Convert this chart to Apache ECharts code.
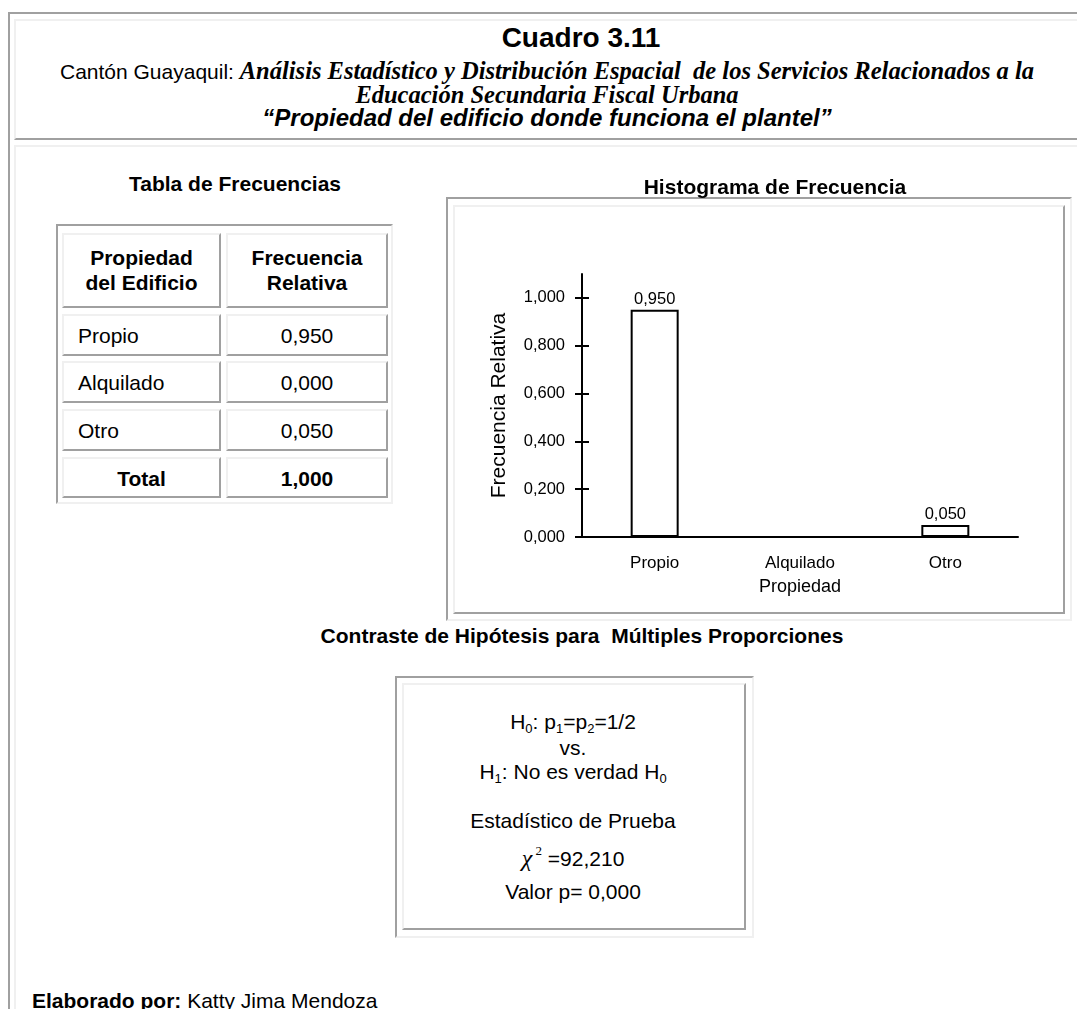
<!DOCTYPE html>
<html>
<head>
<meta charset="utf-8">
<script src="https://cdn.jsdelivr.net/npm/echarts@6/dist/echarts.min.js"></script>
<style>
  html, body { margin:0; padding:0; background:#fff; width:1077px; height:1009px; overflow:hidden; }
  body { position:relative; font-family:"Liberation Sans", Arial, sans-serif; color:#000; }
  .abs { position:absolute; box-sizing:border-box; }
  .t { position:absolute; white-space:nowrap; line-height:1; transform:translate(-50%,-50%); }
  .tl { position:absolute; white-space:nowrap; line-height:1; transform:translate(0,-50%); }
  .serif { font-family:"Liberation Serif","Times New Roman",serif; font-weight:bold; font-style:italic; font-size:24.5px; }
  sub { font-size:0.62em; vertical-align:-0.25em; }
</style>
</head>
<body>
<div id="page"></div>
<div id="chart" class="abs" style="left:440px;top:160px;width:640px;height:460px;"></div>
<script>
// ---------------- data ----------------
const categories = ['Propio', 'Alquilado', 'Otro'];
const relFreq = [0.950, 0.000, 0.050];
const totalFreq = 1.000;
const yTicks = [0, 0.2, 0.4, 0.6, 0.8, 1.0];
const tableHeaders = [['Propiedad', 'del Edificio'], ['Frecuencia', 'Relativa']];
const chi2 = '92,210';
const pValue = '0,000';

const fmt = v => v.toFixed(3).replace('.', ',');
const page = document.getElementById('page');
function box(x, y, w, h, style) {
  const d = document.createElement('div');
  d.className = 'abs';
  d.style.cssText = `left:${x}px;top:${y}px;width:${w}px;height:${h}px;` + style;
  page.appendChild(d); return d;
}
function text(cx, cy, html, style, cls) {
  const d = document.createElement('div');
  d.className = cls || 't';
  d.style.cssText = `left:${cx}px;top:${cy}px;` + (style || '');
  d.innerHTML = html;
  page.appendChild(d); return d;
}
const D = '#a0a0a0', L = '#f0f0f0';
// outer page table frame
box(8, 12, 1200, 1100, `border-top:2px solid ${D};border-left:2px solid ${D};`);
// title cell
box(14, 19, 1200, 121, `border-top:2px solid ${L};border-left:2px solid ${L};border-bottom:2px solid ${D};`);
// body cell
box(14, 145, 1200, 1000, `border-top:2px solid ${L};border-left:2px solid ${L};`);

// titles
text(581, 38, 'Cuadro 3.11', 'font-size:28px;font-weight:bold;');
text(547, 71, 'Cantón Guayaquil: <span class="serif">Análisis Estadístico y Distribución Espacial&nbsp; de los Servicios Relacionados a la</span>', 'font-size:21px;');
text(547, 95, '<span class="serif">Educación Secundaria Fiscal Urbana</span>', 'font-size:21px;');
text(547, 118, '“Propiedad del edificio donde funciona el plantel”', 'font-size:24px;font-weight:bold;font-style:italic;');

// frequency table
text(235, 183, 'Tabla de Frecuencias', 'font-size:21px;font-weight:bold;');
box(56, 224, 337, 280, `border-top:2px solid ${D};border-left:2px solid ${D};border-right:2px solid ${L};border-bottom:2px solid ${L};`);
const colX = [[62, 221], [226, 388]];
const rowY = [[233, 308], [314, 356], [361, 403], [409, 451], [457, 498]];
rowY.forEach(r => colX.forEach(c => {
  box(c[0], r[0], c[1] - c[0], r[1] - r[0], `border-top:2px solid ${L};border-left:2px solid ${L};border-right:2px solid ${D};border-bottom:2px solid ${D};`);
}));
tableHeaders.forEach((h, i) => {
  const cx = (colX[i][0] + colX[i][1]) / 2;
  text(cx, 257, h[0], 'font-size:21px;font-weight:bold;');
  text(cx, 282, h[1], 'font-size:21px;font-weight:bold;');
});
categories.forEach((c, i) => {
  const cy = (rowY[i + 1][0] + rowY[i + 1][1]) / 2;
  text(78, cy, c, 'font-size:21px;', 'tl');
  text((colX[1][0] + colX[1][1]) / 2, cy, fmt(relFreq[i]), 'font-size:21px;');
});
{
  const cy = (rowY[4][0] + rowY[4][1]) / 2;
  text((colX[0][0] + colX[0][1]) / 2, cy, 'Total', 'font-size:21px;font-weight:bold;');
  text((colX[1][0] + colX[1][1]) / 2, cy, fmt(totalFreq), 'font-size:21px;font-weight:bold;');
}

// histogram frame
box(446, 197, 626, 424, `border-top:2px solid ${D};border-left:2px solid ${D};border-right:2px solid ${L};border-bottom:2px solid ${L};`);
box(453, 205, 612, 409, `border-top:2px solid ${L};border-left:2px solid ${L};border-right:2px solid ${D};border-bottom:2px solid ${D};`);

// hypothesis section
text(582, 635, 'Contraste de Hipótesis para&nbsp; Múltiples Proporciones', 'font-size:21px;font-weight:bold;');
box(395, 676, 359, 262, `border-top:2px solid ${D};border-left:2px solid ${D};border-right:2px solid ${L};border-bottom:2px solid ${L};`);
box(402, 683, 344, 247, `border-top:2px solid ${L};border-left:2px solid ${L};border-right:2px solid ${D};border-bottom:2px solid ${D};`);
const hx = 573;
text(hx, 723, 'H<sub>0</sub>: p<sub>1</sub>=p<sub>2</sub>=1/2', 'font-size:21px;');
text(hx, 747, 'vs.', 'font-size:21px;');
text(hx, 773, 'H<sub>1</sub>: No es verdad H<sub>0</sub>', 'font-size:21px;');
text(hx, 820, 'Estadístico de Prueba', 'font-size:21px;');
text(hx, 857, '<span style="font-family:\'Liberation Serif\',serif;font-style:italic;font-size:24px;">χ</span><sup style="font-family:\'Liberation Serif\',serif;font-size:13px;vertical-align:0.9em;">&nbsp;2</sup> =' + chi2, 'font-size:21px;');
text(hx, 891, 'Valor p= ' + pValue, 'font-size:21px;');

// footer
text(32, 1000, '<b>Elaborado por:</b> Katty Jima Mendoza', 'font-size:21px;', 'tl');

// ---------------- chart ----------------
const chart = echarts.init(document.getElementById('chart'), null, { renderer: 'canvas' });
const FONT = '"Liberation Sans", Arial, sans-serif';
chart.setOption({
  animation: false,
  title: {
    text: 'Histograma de Frecuencia',
    left: 330, top: 13, textAlign: 'center',
    textStyle: { fontFamily: FONT, fontSize: 21, fontWeight: 'bold', color: '#000' }
  },
  grid: { left: 142, right: 62, top: 114, bottom: 83 },
  xAxis: {
    type: 'category',
    data: categories,
    name: 'Propiedad',
    nameLocation: 'middle',
    nameGap: 41,
    nameTextStyle: { fontFamily: FONT, fontSize: 18, color: '#000' },
    axisLine: { lineStyle: { color: '#000', width: 2 } },
    axisTick: { show: false },
    axisLabel: { fontFamily: FONT, fontSize: 17, color: '#000', margin: 18 }
  },
  yAxis: [{
    type: 'value',
    min: 0, max: 1.1, interval: 0.2,
    name: 'Frecuencia Relativa',
    nameLocation: 'middle',
    nameGap: 72,
    nameTextStyle: { fontFamily: FONT, fontSize: 21, color: '#000' },
    splitLine: { show: false },
    axisLine: { show: true, lineStyle: { color: '#000', width: 2 } },
    axisTick: { show: true, length: 7, lineStyle: { color: '#000', width: 2 }, customValues: yTicks },
    axisLabel: { fontFamily: FONT, fontSize: 16.5, color: '#000', margin: 17, customValues: yTicks, formatter: v => fmt(v) }
  }, {
    type: 'value',
    position: 'left',
    min: 0, max: 1.1, interval: 0.2,
    splitLine: { show: false },
    axisLine: { show: false },
    axisTick: { show: true, inside: true, length: 7, lineStyle: { color: '#000', width: 2 }, customValues: yTicks },
    axisLabel: { show: false }
  }],
  series: [{
    type: 'bar',
    data: relFreq,
    barWidth: 48,
    itemStyle: { color: '#fff', borderColor: '#000', borderWidth: 2 },
    label: {
      show: true, position: 'top', distance: 2,
      fontFamily: FONT, fontSize: 16.5, color: '#000',
      formatter: p => p.value > 0 ? fmt(p.value) : ''
    }
  }]
});
</script>
</body>
</html>
